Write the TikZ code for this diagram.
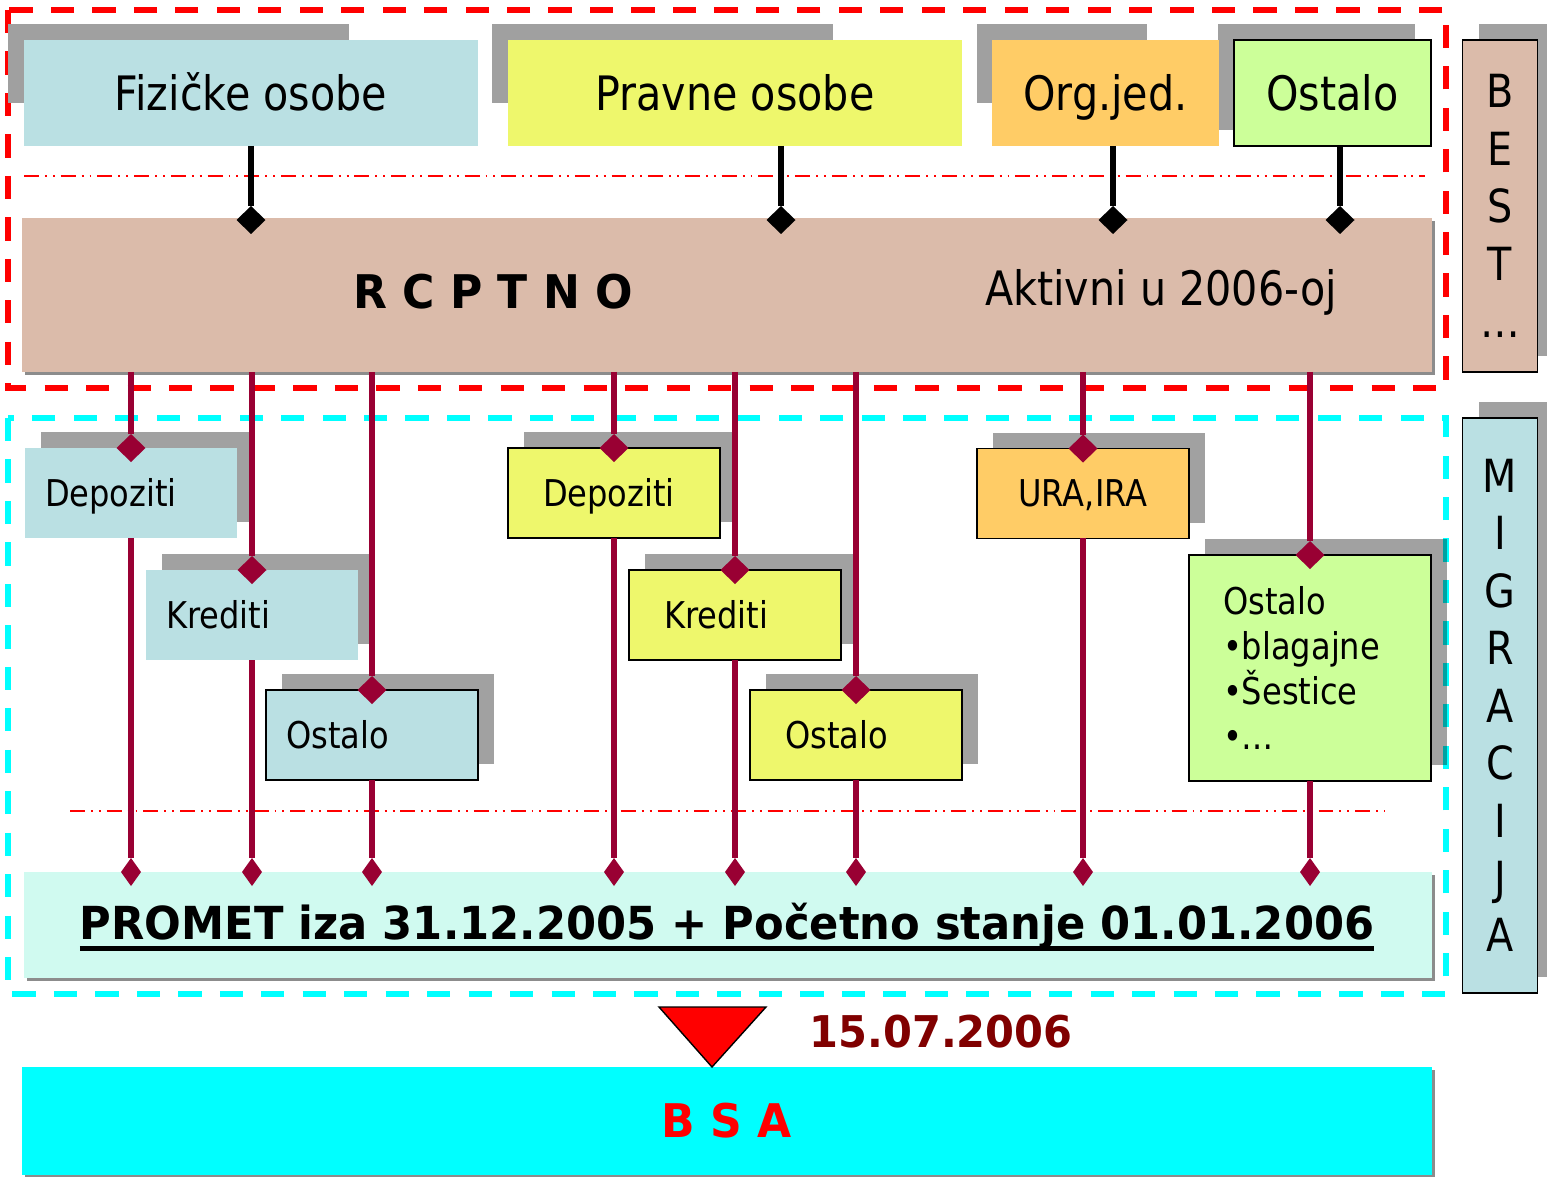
\documentclass[tikz,border=0pt]{standalone}
\usepackage{fontspec}
\setmainfont{DejaVu Sans}[FakeStretch=0.87]
\newfontfamily\heavy{DejaVu Sans}[FakeStretch=0.95]
\usepackage{tikz}
\usetikzlibrary{shapes.geometric}
\usetikzlibrary{shadows}
\definecolor{lblue}{RGB}{186,224,227}
\definecolor{lyellow}{RGB}{238,247,108}
\definecolor{lorange}{RGB}{255,204,102}
\definecolor{lgreen}{RGB}{204,255,153}
\definecolor{rose}{RGB}{219,187,170}
\definecolor{mint}{RGB}{208,250,240}
\definecolor{aqua}{RGB}{0,255,255}
\definecolor{wine}{RGB}{153,0,51}
\definecolor{darkred}{RGB}{128,0,0}
\definecolor{shadowgray}{RGB}{160,160,160}
\newcommand{\ulinetext}[1]{\setbox0=\hbox{#1}\rlap{\rule[-6.2pt]{\wd0}{2.8pt}}\box0}

\begin{document}
\begin{tikzpicture}[x=0.02cm, y=-0.02cm,
every node/.style = {inner sep=0pt, outer sep=0pt},
  textfont/.style = {font=\fontsize{27}{32}\selectfont},
  boldfont/.style = {font=\heavy\bfseries\fontsize{26.4}{31}\selectfont},
  smallfont/.style = {font=\fontsize{21}{25.5}\selectfont},
  edged/.style = {draw, line width=0.9pt},
  topbox/.style = {minimum height=2.12cm, textfont, text height=19.7pt, text depth=0pt},
  band/.style = {minimum width=28.2cm, drop shadow={shadow xshift=0.06cm, shadow yshift=-0.06cm, fill=black, opacity=0.45}},
  sidebox/.style = {edged, minimum width=1.5cm, align=center, font=\fontsize{26}{32.7}\selectfont, drop shadow={shadow xshift=0.32cm, shadow yshift=0.32cm, fill=black, opacity=0.37}},
  subbox/.style = {minimum height=1.8cm, text width=3.44cm, inner xsep=0.4cm, align=left, smallfont, drop shadow={shadow xshift=0.32cm, shadow yshift=0.32cm, fill=black, opacity=0.37}},
  oneline/.style = {text height=15.3pt, text depth=0pt},
  ysub/.style = {inner xsep=0.7cm, text width=2.84cm},
  blackdia/.style = {diamond, fill=black, minimum width=0.58cm, minimum height=0.56cm},
  subdia/.style = {diamond, fill=wine, minimum width=0.58cm, minimum height=0.56cm},
  footdia/.style = {diamond, fill=wine, minimum width=0.4cm, minimum height=0.56cm},
  bline/.style = {draw=black, line width=3.2pt},
  mline/.style = {draw=wine, line width=3.2pt},
  redframe/.style = {draw=red, line width=3.4pt, dash pattern=on 13.2pt off 10.4pt},
  cyanframe/.style = {draw=aqua, line width=3.4pt, dash pattern=on 13.2pt off 10.4pt},
  dashdot/.style = {draw=red, line width=0.9pt, dash pattern=on 8.5pt off 3.4pt on 1.1pt off 3.4pt on 1.1pt off 3.4pt}
]
\useasboundingbox (0,0) rectangle (1547,1176);
\fill[white] (0,0) rectangle (1547,1176);

\draw[redframe] (8,10) rectangle (1446,388);
\draw[cyanframe] (8,418) rectangle (1446,994);

\fill[shadowgray] (8,24) rectangle (349,103);
\fill[shadowgray] (492,24) rectangle (833,103);
\fill[shadowgray] (977,24) rectangle (1147,103);
\fill[shadowgray] (1218,24) rectangle (1415,130);

\node[topbox, fill=lblue, minimum width=9.08cm] (fiz) at (251,93) {Fizičke osobe};
\node[topbox, fill=lyellow, minimum width=9.08cm] (prav) at (735,93) {Pravne osobe};
\node[topbox, fill=lorange, minimum width=4.54cm] (org) at (1105.5,93) {Org.jed.};
\node[topbox, edged, fill=lgreen, minimum width=3.94cm] (ost) at (1332.5,93) {Ostalo};

\draw[dashdot] (24,176) -- (1425,176);

\node[band, fill=rose, minimum height=3.08cm] (rcp) at (727,295) {};
\node[boldfont] (rcpt) at (493,292) {R C P T N O};
\node[textfont] (akt) at (1161,292) {Aktivni u 2006-oj};

\node[sidebox, fill=rose, minimum height=6.64cm] (best) at (1500,206) {B\\E\\S\\T\\…};
\node[sidebox, fill=lblue, minimum height=11.5cm] (migr) at (1500,705.5) {M\\I\\G\\R\\A\\C\\I\\J\\A};

\node[blackdia] (bd1) at (251,220) {};
\node[blackdia] (bd2) at (781,220) {};
\node[blackdia] (bd3) at (1113,220) {};
\node[blackdia] (bd4) at (1340,220) {};
\draw[bline] (bd1 |- fiz.south) -- (bd1);
\draw[bline] (bd2 |- prav.south) -- (bd2);
\draw[bline] (bd3 |- org.south) -- (bd3);
\draw[bline] (bd4 |- ost.south) -- (bd4);

\node[subbox, oneline, fill=lblue] (dep1) at (131,493) {Depoziti};
\node[subbox, oneline, fill=lblue] (kre1) at (252,615) {Krediti};
\node[subbox, oneline, edged, fill=lblue] (ost1) at (372,735) {Ostalo};
\node[subbox, oneline, ysub, edged, fill=lyellow] (dep2) at (614,493) {Depoziti};
\node[subbox, oneline, ysub, edged, fill=lyellow] (kre2) at (735,615) {Krediti};
\node[subbox, oneline, ysub, edged, fill=lyellow] (ost2) at (856,735) {Ostalo};
\node[subbox, oneline, edged, fill=lorange, align=center] (ura) at (1083,493.5) {URA,IRA};
\node[subbox, edged, fill=lgreen, minimum height=4.52cm, inner xsep=0.68cm, text width=3.48cm] (ost3) at (1310,668) {Ostalo\\•blagajne\\•Šestice\\•…};

\draw[dashdot] (70,811) -- (1385,811);

\node[band, fill=mint, minimum width=28.16cm, minimum height=2.12cm] (prom) at (728,925) {};
\node[font=\heavy\bfseries\fontsize{25.9}{31}\selectfont] (promt) at (727,927) {\ulinetext{PROMET iza 31.12.2005 + Početno stanje 01.01.2006}};

\node[subdia] (sd1) at (dep1.north) {};
\node[subdia] (sd2) at (kre1.north) {};
\node[subdia] (sd3) at (ost1.north) {};
\node[subdia] (sd4) at (dep2.north) {};
\node[subdia] (sd5) at (kre2.north) {};
\node[subdia] (sd6) at (ost2.north) {};
\node[subdia] (sd7) at (ura.north) {};
\node[subdia] (sd8) at (ost3.north) {};

\node[footdia] (fd1) at (dep1.south |- prom.north) {};
\node[footdia] (fd2) at (kre1.south |- prom.north) {};
\node[footdia] (fd3) at (ost1.south |- prom.north) {};
\node[footdia] (fd4) at (dep2.south |- prom.north) {};
\node[footdia] (fd5) at (kre2.south |- prom.north) {};
\node[footdia] (fd6) at (ost2.south |- prom.north) {};
\node[footdia] (fd7) at (ura.south |- prom.north) {};
\node[footdia] (fd8) at (ost3.south |- prom.north) {};

\draw[mline] (rcp.south -| sd1) -- (sd1);
\draw[mline] (rcp.south -| sd2) -- (sd2);
\draw[mline] (rcp.south -| sd3) -- (sd3);
\draw[mline] (rcp.south -| sd4) -- (sd4);
\draw[mline] (rcp.south -| sd5) -- (sd5);
\draw[mline] (rcp.south -| sd6) -- (sd6);
\draw[mline] (rcp.south -| sd7) -- (sd7);
\draw[mline] (rcp.south -| sd8) -- (sd8);
\draw[mline] (dep1.south) -- (fd1);
\draw[mline] (kre1.south) -- (fd2);
\draw[mline] (ost1.south) -- (fd3);
\draw[mline] (dep2.south) -- (fd4);
\draw[mline] (kre2.south) -- (fd5);
\draw[mline] (ost2.south) -- (fd6);
\draw[mline] (ura.south) -- (fd7);
\draw[mline] (ost3.south) -- (fd8);

\node[band, fill=aqua, minimum height=2.16cm, boldfont, text=red] (bsa) at (727,1121) {B S A};
\draw[fill=red, line width=0.8pt] (659,1007) -- (766,1007) -- (712,1067) -- cycle;
\node[font=\heavy\bfseries\fontsize{24.9}{30}\selectfont, text=darkred] (date) at (941,1032) {15.07.2006};
\end{tikzpicture}
\end{document}
